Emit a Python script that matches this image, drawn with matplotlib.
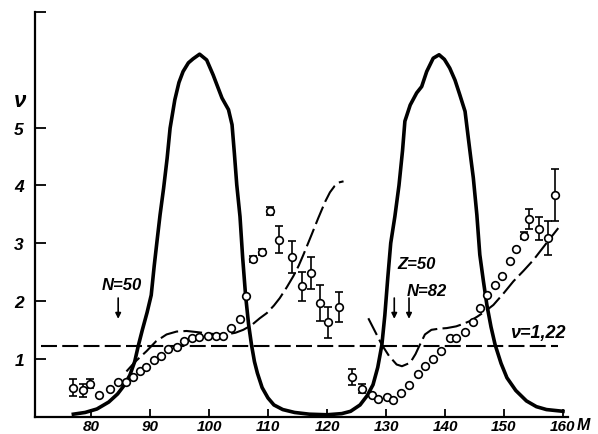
import matplotlib

matplotlib.use('Agg')
import matplotlib.pyplot as plt

# fragment mass yield (solid curve), arbitrary scale
yield_mass = [77.0, 79.0, 81.0, 83.0, 84.5, 85.7, 86.6, 87.4, 88.0, 88.7, 89.5, 90.2, 90.7, 91.2, 91.7,
              92.3, 92.9, 93.4, 94.2, 94.9, 95.6, 96.5, 97.3, 98.4, 99.6, 100.7, 102.2, 103.3, 103.9,
              104.3, 104.7, 105.25, 105.7, 106.2, 106.7, 107.2, 107.7, 108.2, 109.0, 110.0, 111.0, 112.5,
              114.5, 117.0, 120.0, 122.5, 124.0, 125.6, 126.8, 127.8, 128.6, 129.3, 129.8, 130.3, 130.8,
              131.5, 132.2, 132.8, 133.2, 134.1, 135.2, 136.05, 136.9, 138.0, 139.0, 139.9, 140.8, 141.7,
              142.5, 143.4, 143.95, 144.4, 144.8, 145.4, 145.9, 146.5, 147.1, 147.8, 148.5, 149.5, 150.5,
              152.0, 153.8, 155.5, 157.2, 160.0]
yield_values = [0.04, 0.07, 0.13, 0.25, 0.39, 0.55, 0.72, 0.95, 1.22, 1.50, 1.80, 2.10, 2.60, 3.05, 3.49,
                3.95, 4.47, 4.99, 5.48, 5.78, 5.97, 6.12, 6.19, 6.27, 6.17, 5.91, 5.51, 5.31, 5.05,
                4.55, 4.01, 3.46, 2.75, 2.09, 1.60, 1.24, 0.95, 0.75, 0.50, 0.32, 0.20, 0.12,
                0.07, 0.04, 0.03, 0.05, 0.09, 0.20, 0.36, 0.55, 0.85, 1.24, 1.75, 2.40, 3.00,
                3.46, 4.00, 4.60, 5.11, 5.39, 5.60, 5.71, 5.97, 6.20, 6.26, 6.18, 6.03, 5.82,
                5.57, 5.28, 4.82, 4.45, 4.13, 3.49, 2.80, 2.35, 1.93, 1.55, 1.24, 0.92, 0.67,
                0.45, 0.27, 0.17, 0.12, 0.09]

# calculated neutron number, light and heavy fragments (dashed curves)
light_mass = [86.0, 87.5, 89.4, 91.0, 92.8, 94.5, 96.2, 98.0, 99.6, 101.5, 103.0, 104.5, 105.8, 107.2,
              108.6, 109.8, 111.0, 112.0, 113.2, 114.3, 115.2, 116.0, 117.4, 118.5, 119.7, 120.5, 121.3,
              122.0, 122.8]
light_nu = [0.78, 0.95, 1.13, 1.30, 1.42, 1.47, 1.48, 1.46, 1.44, 1.42, 1.42, 1.45, 1.50, 1.58,
            1.70, 1.79, 1.92, 2.05, 2.24, 2.43, 2.61, 2.80, 3.15, 3.43, 3.72, 3.88, 3.99,
            4.05, 4.07]
heavy_mass = [127.0, 128.0, 129.3, 130.5, 131.8, 132.7, 134.1, 135.0, 135.5, 136.6, 137.7, 139.0, 140.3,
              141.9, 143.0, 144.2, 145.5, 146.8, 148.2, 150.0, 151.6, 153.3, 155.0, 157.2, 159.2]
heavy_nu = [1.70, 1.50, 1.24, 1.05, 0.90, 0.87, 0.93, 1.08, 1.19, 1.42, 1.50, 1.52, 1.53,
            1.56, 1.60, 1.65, 1.73, 1.82, 1.93, 2.14, 2.34, 2.52, 2.71, 3.00, 3.26]
mean_nu = 1.22

# measured points without error bars
meas_mass = [81.4, 83.2, 84.6, 86.0, 87.1, 88.3, 89.4, 90.6, 91.8, 93.1, 94.5, 95.7, 97.1, 98.3, 99.9,
             101.1, 102.3, 103.8, 105.3, 106.2, 127.6, 128.7, 130.1, 131.2, 132.5, 133.9, 135.4, 136.6,
             137.9, 139.3, 140.8, 141.9, 143.4, 144.8, 146.0, 147.2, 148.5, 149.7, 151.0, 152.1]
meas_nu = [0.38, 0.48, 0.59, 0.59, 0.69, 0.78, 0.86, 0.97, 1.04, 1.16, 1.21, 1.30, 1.35, 1.37, 1.39,
           1.40, 1.40, 1.54, 1.69, 2.09, 0.38, 0.30, 0.34, 0.29, 0.41, 0.54, 0.74, 0.87,
           1.00, 1.14, 1.36, 1.36, 1.46, 1.63, 1.88, 2.11, 2.27, 2.44, 2.69, 2.89]

# measured points with error bars
err_mass = [76.9, 78.7, 79.8, 107.4, 108.9, 110.3, 111.9, 114.0, 115.8, 117.3, 118.8, 120.2, 122.0,
            124.2, 126.0, 153.4, 154.2, 155.9, 157.4, 158.6]
err_nu = [0.50, 0.45, 0.57, 2.72, 2.85, 3.55, 3.06, 2.76, 2.25, 2.48, 1.96, 1.63, 1.89,
          0.68, 0.48, 3.13, 3.42, 3.25, 3.09, 3.83]
err_size = [0.15, 0.11, 0.08, 0.05, 0.05, 0.07, 0.23, 0.28, 0.25, 0.28, 0.31, 0.27, 0.26,
            0.14, 0.08, 0.06, 0.17, 0.20, 0.30, 0.45]

x_ticks = [80, 90, 100, 110, 120, 130, 140, 150, 160]
y_ticks = [1, 2, 3, 4, 5]


def main() -> int:
    plt.rcParams['font.family'] = ['Liberation Sans', 'DejaVu Sans']
    plt.rcParams['font.style'] = 'italic'
    plt.rcParams['font.weight'] = 'bold'
    plt.rcParams['lines.scale_dashes'] = False

    fig = plt.figure(figsize=(5.98, 4.35), dpi=100)
    ax = fig.add_axes([35 / 598, 17.5 / 435, 533 / 598, 404.5 / 435])
    ax.set_xlim(70.5, 160.85)
    ax.set_ylim(0, 7)

    ax.plot(yield_mass, yield_values, color='black', lw=2.6, solid_joinstyle='round', zorder=3)
    ax.plot(light_mass, light_nu, color='black', lw=1.5, dashes=(13.5, 3.8), zorder=2)
    ax.plot(heavy_mass, heavy_nu, color='black', lw=1.5, dashes=(13.5, 3.8), zorder=2)
    ax.plot([71.5, 159.2], [mean_nu, mean_nu], color='black', lw=1.5, dashes=(11.5, 3.8), zorder=2)

    ax.errorbar(err_mass, err_nu, yerr=err_size, fmt='o', ms=5.5, mfc='white', mec='black', mew=1.2,
                ecolor='black', elinewidth=1.2, capsize=2.8, capthick=1.2, zorder=5)
    ax.plot(meas_mass, meas_nu, 'o', ms=5.5, mfc='white', mec='black', mew=1.2, zorder=5)

    for side in ('top', 'right'):
        ax.spines[side].set_visible(False)
    for side in ('left', 'bottom'):
        ax.spines[side].set_linewidth(1.6)

    ax.set_xticks(x_ticks)
    ax.set_xticklabels([str(t) for t in x_ticks])
    ax.set_yticks(y_ticks + [7])
    ax.set_yticklabels([str(t) for t in y_ticks] + [''])
    ax.tick_params(axis='x', direction='in', length=6, width=1.3, pad=2, labelsize=11)
    ax.tick_params(axis='y', direction='in', length=8, width=1.3, pad=8, labelsize=12.5)

    text_style = dict(fontsize=12, style='italic', weight='bold', color='black')
    ax.text(85.2, 2.29, 'N=50', ha='center', va='center', **text_style)
    ax.text(135.2, 2.64, 'Z=50', ha='center', va='center', **text_style)
    ax.text(136.9, 2.18, 'N=82', ha='center', va='center', **text_style)
    ax.text(151.0, 1.46, 'ν=1,22', ha='left', va='center', fontsize=13, style='italic', weight='bold')
    ax.text(163.4, -0.14, 'M', ha='center', va='center', fontsize=11.5, clip_on=False)
    ax.text(68.0, 5.47, 'ν', ha='center', va='center', fontsize=16, style='italic', weight='bold',
            clip_on=False)

    arrow = dict(arrowstyle='-|>', color='black', lw=1.2, mutation_scale=8, shrinkA=0, shrinkB=0)
    for mass in (84.6, 131.4, 133.9):
        ax.annotate('', xy=(mass, 1.69), xytext=(mass, 2.05), arrowprops=arrow)

    fig.savefig('out.png', dpi=100)
    plt.close(fig)
    return 0


if __name__ == '__main__':
    raise SystemExit(main())
